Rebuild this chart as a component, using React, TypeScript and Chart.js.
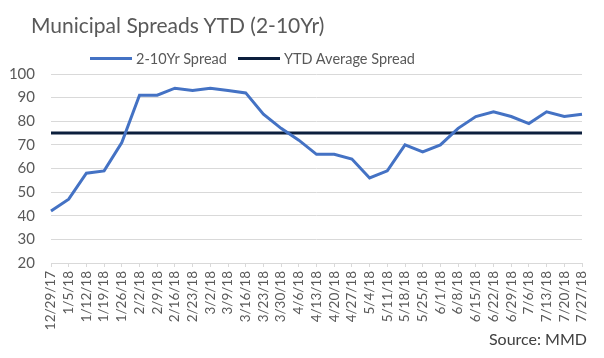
import React, { useEffect, useRef } from "react";
import { Chart, registerables } from "chart.js";

Chart.register(...registerables);

const categories = [
  "12/29/17", "1/5/18", "1/12/18", "1/19/18", "1/26/18", "2/2/18", "2/9/18", "2/16/18",
  "2/23/18", "3/2/18", "3/9/18", "3/16/18", "3/23/18", "3/30/18", "4/6/18", "4/13/18",
  "4/20/18", "4/27/18", "5/4/18", "5/11/18", "5/18/18", "5/25/18", "6/1/18", "6/8/18",
  "6/15/18", "6/22/18", "6/29/18", "7/6/18", "7/13/18", "7/20/18", "7/27/18",
];

const spread = [
  42, 47, 58, 59, 71, 91, 91, 94, 93, 94, 93, 92, 83, 77, 72, 66,
  66, 64, 56, 59, 70, 67, 70, 77, 82, 84, 82, 79, 84, 82, 83,
];

const ytdAverage = [
  75, 75, 75, 75, 75, 75, 75, 75, 75, 75, 75, 75, 75, 75, 75, 75,
  75, 75, 75, 75, 75, 75, 75, 75, 75, 75, 75, 75, 75, 75, 75,
];

const seriesNames = ["2-10Yr Spread", "YTD Average Spread"];
const titleText = "Municipal Spreads YTD (2-10Yr)";
const sourceText = "Source: MMD";

const BLUE = "#4472C4";
const NAVY = "#0C1F3D";
const GREY = "#595959";
const FONT = "Lato, 'Open Sans', sans-serif";

export default function App() {
  const canvasRef = useRef<HTMLCanvasElement | null>(null);

  useEffect(() => {
    document.body.style.margin = "0";
    const canvas = canvasRef.current;
    if (!canvas) return;
    const chart = new Chart(canvas, {
      type: "line",
      data: {
        labels: categories,
        datasets: [
          {
            label: seriesNames[0],
            data: spread,
            borderColor: BLUE,
            backgroundColor: BLUE,
            borderWidth: 3,
            pointRadius: 0,
            tension: 0,
          },
          {
            label: seriesNames[1],
            data: ytdAverage,
            borderColor: NAVY,
            backgroundColor: NAVY,
            borderWidth: 3,
            pointRadius: 0,
            tension: 0,
          },
        ],
      },
      options: {
        animation: false,
        responsive: false,
        maintainAspectRatio: false,
        devicePixelRatio: 1,
        layout: { padding: { top: 74, left: 0, right: 22, bottom: 0 } },
        plugins: {
          legend: { display: false },
          title: { display: false },
          tooltip: { enabled: false },
        },
        scales: {
          x: {
            offset: false,
            afterFit: (scale: any) => {
              scale.height = 95;
            },
            grid: {
              display: true,
              drawOnChartArea: false,
              drawTicks: true,
              tickLength: 4,
              color: "#D9D9D9",
            },
            border: { display: true, color: "#D9D9D9", width: 1 },
            ticks: {
              autoSkip: false,
              minRotation: 90,
              maxRotation: 90,
              padding: 4,
              color: GREY,
              font: { family: FONT, size: 13.5 },
            },
          },
          y: {
            min: 20,
            max: 100,
            afterFit: (scale: any) => {
              scale.width = 51;
            },
            border: { display: false },
            grid: { color: "#D9D9D9", lineWidth: 1, drawTicks: false },
            ticks: {
              stepSize: 10,
              padding: 16,
              color: GREY,
              font: { family: FONT, size: 15 },
            },
          },
        },
      },
    });
    return () => chart.destroy();
  }, []);

  const legendItem = (color: string, text: string, left: number) => (
    <div
      style={{
        position: "absolute",
        left,
        top: 49,
        height: 18,
        display: "flex",
        alignItems: "center",
        whiteSpace: "nowrap",
      }}
    >
      <div style={{ width: 42, height: 3, background: color, marginRight: 4 }} />
      <span style={{ fontFamily: FONT, fontSize: 14.5, color: GREY }}>{text}</span>
    </div>
  );

  return (
    <div style={{ position: "relative", width: 604, height: 358, background: "#fff" }}>
      <canvas ref={canvasRef} width={604} height={358} style={{ display: "block" }} />
      <div
        style={{
          position: "absolute",
          left: 31,
          top: 12,
          fontFamily: FONT,
          fontSize: 21,
          color: GREY,
          whiteSpace: "nowrap",
        }}
      >
        {titleText}
      </div>
      {legendItem(BLUE, seriesNames[0], 90)}
      {legendItem(NAVY, seriesNames[1], 238)}
      <div
        style={{
          position: "absolute",
          right: 17,
          top: 329,
          fontFamily: FONT,
          fontSize: 16,
          color: "#404040",
          whiteSpace: "nowrap",
        }}
      >
        {sourceText}
      </div>
    </div>
  );
}
